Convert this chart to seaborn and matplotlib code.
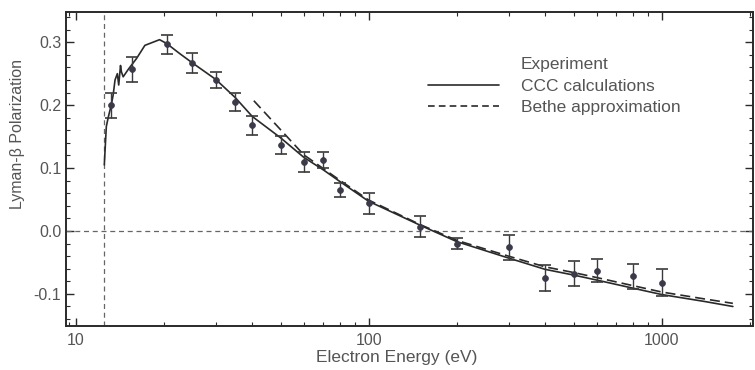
import numpy as np
import pandas as pd
import matplotlib
matplotlib.use("Agg")
import matplotlib.pyplot as plt
import seaborn as sns
from matplotlib.lines import Line2D
from matplotlib.ticker import MultipleLocator, FixedLocator, NullFormatter

# ---- data ----
exp_energy = [13.2, 15.5, 20.5, 25, 30, 35, 40, 50, 60, 70, 80, 100, 150, 200, 300, 400, 500, 600, 800, 1000]
exp_pol    = [0.200, 0.257, 0.297, 0.267, 0.240, 0.205, 0.168, 0.137, 0.110, 0.113, 0.065, 0.044,
              0.007, -0.020, -0.026, -0.075, -0.068, -0.063, -0.072, -0.082]
exp_err    = [0.020, 0.020, 0.015, 0.016, 0.012, 0.015, 0.015, 0.014, 0.016, 0.013, 0.011, 0.017,
              0.017, 0.009, 0.020, 0.021, 0.020, 0.018, 0.020, 0.022]

ccc_energy = [12.5, 12.7, 12.9, 13.2, 13.4, 13.6, 13.85, 14.0, 14.2, 14.3, 14.5, 15.1, 16.1, 17.2,
              19.3, 20.4, 22.6, 25, 30, 35, 40, 50, 60, 70, 80, 100, 109, 150, 200, 300, 400,
              500, 600, 800, 1000, 1400, 1750]
ccc_pol    = [0.105, 0.166, 0.181, 0.200, 0.216, 0.240, 0.250, 0.232, 0.263, 0.253, 0.245, 0.257,
              0.274, 0.295, 0.304, 0.298, 0.282, 0.267, 0.241, 0.212, 0.182, 0.148, 0.117,
              0.097, 0.078, 0.047, 0.039, 0.009, -0.017, -0.043, -0.061, -0.070, -0.078,
              -0.091, -0.101, -0.112, -0.120]

bethe_energy = [40.5, 54, 60, 70, 80, 100, 150, 200, 300, 400, 500, 600, 800, 1000, 1400, 1750]
bethe_pol    = [0.207, 0.144, 0.121, 0.099, 0.080, 0.049, 0.010, -0.015, -0.040, -0.057, -0.066,
                -0.074, -0.087, -0.097, -0.108, -0.115]

threshold = 12.5
x_ticks = [10, 100, 1000]
y_ticks = [-0.1, 0.0, 0.1, 0.2, 0.3]

legend_labels = ["Experiment", "CCC calculations", "Bethe approximation"]

# ---- style ----
sns.set_style("ticks")
plt.rcParams['font.family'] = ['Liberation Sans', 'DejaVu Sans']

ink = "#2a2a2a"
txt = "#555555"

fig = plt.figure(figsize=(7.55, 3.70), dpi=100)
ax = fig.add_axes([66/755, 1-326/370, (753-66)/755, (326-12)/370])

ccc_df = pd.DataFrame({"E": ccc_energy, "P": ccc_pol})
bethe_df = pd.DataFrame({"E": bethe_energy, "P": bethe_pol})
exp_df = pd.DataFrame({"E": exp_energy, "P": exp_pol, "err": exp_err})

ax.axhline(0.0, color="#666666", lw=0.9, ls=(0, (4, 3)), zorder=1)
ax.axvline(threshold, color="#666666", lw=0.9, ls=(0, (4, 3)), zorder=1)

sns.lineplot(data=ccc_df, x="E", y="P", ax=ax, color=ink, lw=1.2, sort=False,
             estimator=None, zorder=3)
sns.lineplot(data=bethe_df, x="E", y="P", ax=ax, color=ink, lw=1.2, sort=False,
             estimator=None, zorder=3, linestyle=(0, (6, 3)))
ax.errorbar(exp_df["E"], exp_df["P"], yerr=exp_df["err"], fmt="none",
            ecolor="#3a3a3a", elinewidth=1.0, capsize=4.5, capthick=1.2, zorder=4)
sns.scatterplot(data=exp_df, x="E", y="P", ax=ax, color="#3a3a4a", s=18,
                edgecolor="#3a3a4a", linewidth=0.5, zorder=5)

ax.set_xscale("log")
ax.set_xlim(9.25, 2050)
ax.set_ylim(-0.151, 0.348)
ax.xaxis.set_major_locator(FixedLocator(x_ticks))
ax.set_xticklabels([str(t) for t in x_ticks])
minor = [v * d for d in (10, 100, 1000) for v in range(2, 10)] + [9.5]
ax.xaxis.set_minor_locator(FixedLocator(minor))
ax.xaxis.set_minor_formatter(NullFormatter())
ax.yaxis.set_major_locator(FixedLocator(y_ticks))
ax.set_yticklabels(["-0.1", "0.0", "0.1", "0.2", "0.3"])
ax.yaxis.set_minor_locator(MultipleLocator(0.02))

ax.tick_params(which="both", direction="in", top=True, right=True,
               colors=ink, labelcolor=txt, labelsize=11.5)
ax.tick_params(which="major", length=6, width=1.0)
ax.tick_params(which="minor", length=3, width=0.8)
ax.tick_params(axis="x", pad=5)
for s in ax.spines.values():
    s.set_color(ink)
    s.set_linewidth(1.4)

ax.set_xlabel("Electron Energy (eV)", color=txt, fontsize=12.5)
ax.set_ylabel("Lyman-\u03b2 Polarization", color=txt, fontsize=11.5)
ax.xaxis.set_label_coords((397-66)/687, -0.078)
ax.yaxis.set_label_coords(-0.060, (326-134)/314)

handles = [Line2D([], [], color="none"),
           Line2D([], [], color=ink, lw=1.2),
           Line2D([], [], color=ink, lw=1.2, linestyle=(0, (4, 2.5)))]
leg = ax.legend(handles, legend_labels, loc="upper left", bbox_to_anchor=((428-66)/687, 0.856),
                frameon=False, fontsize=12.5, handlelength=4.1, handletextpad=1.26,
                labelspacing=0.36, borderpad=0, borderaxespad=0)
for t in leg.get_texts():
    t.set_color(txt)

fig.savefig("out.png", dpi=100)
